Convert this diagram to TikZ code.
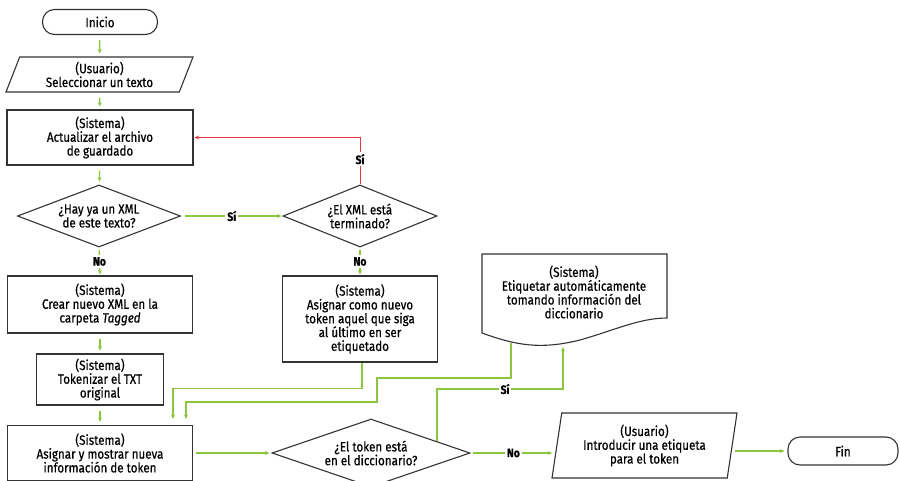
\documentclass[tikz,border=0pt]{standalone}
\usepackage{fontspec}
\setmainfont{Fira Sans}[FakeStretch=0.86, FakeBold=0.6]
\usetikzlibrary{shapes.geometric,arrows.meta,calc}
\definecolor{gr}{HTML}{8CC63F}
\definecolor{rd}{HTML}{E8383D}
\definecolor{ln}{HTML}{333333}
\begin{document}
\begin{tikzpicture}[x=1pt,y=-1pt,
  font=\fontsize{13.5}{13.8}\selectfont,
  shp/.style={draw=ln, line width=1.1pt, align=center, inner sep=2pt},
  box/.style={shp, rectangle},
  term/.style={shp, rectangle, rounded corners=12pt},
  dec/.style={shp, diamond, aspect=2.6, inner sep=0pt},
  io/.style={shp, trapezium, trapezium stretches body},
  lbl/.style={fill=white, inner sep=2pt, font=\fontsize{12}{13}\selectfont\bfseries},
  ga/.style={draw=gr, line width=1.2pt, -{Stealth[length=4.5pt,width=4pt]}},
  ra/.style={draw=rd, line width=1pt, -{Stealth[length=4.5pt,width=4pt]}},
  gap/.style={shorten <=5pt, shorten >=3pt}]
\useasboundingbox (0,0) rectangle (900,480);

\node[term, minimum width=115pt, minimum height=25pt] (inicio) at (100,22) {Inicio};
\node[io, trapezium left angle=65, trapezium right angle=115, minimum width=187pt, minimum height=35pt] (u1) at (99.5,74.5) {(Usuario)\\Seleccionar un texto};
\node[box, minimum width=186pt, minimum height=55pt] (act) at (100,137.5) {(Sistema)\\Actualizar el archivo\\de guardado};
\node[dec, minimum width=163pt, minimum height=62pt] (d1) at (99,216) {¿Hay ya un XML\\de este texto?};
\node[dec, aspect=2.5, minimum width=154pt, minimum height=62pt] (d2) at (360,216) {¿El XML está\\terminado?};
\node[box, minimum width=185pt, minimum height=57pt] (crear) at (100,304.5) {(Sistema)\\Crear nuevo XML en la\\carpeta \textit{Tagged}};
\node[box, minimum width=127pt, minimum height=51pt] (tok) at (100,379.5) {(Sistema)\\Tokenizar el TXT\\original};
\node[box, minimum width=185pt, minimum height=55pt] (asig) at (100,453) {(Sistema)\\Asignar y mostrar nueva\\información de token};
\node[box, minimum width=155pt, minimum height=86pt] (nuevo) at (360,319) {(Sistema)\\Asignar como nuevo\\token aquel que siga\\al último en ser\\etiquetado};
\node[align=center, inner sep=0pt] (doc) at (574,292) {(Sistema)\\Etiquetar automáticamente\\tomando información del\\diccionario};
\draw[draw=ln, line width=1.1pt] (482,333) -- (482,254) -- (667,254) -- (667,318)
  .. controls (640,318) and (615,330) .. (580,340)
  .. controls (540,350) and (515,345) .. (482,333);
\node[dec, aspect=3.4, minimum width=198pt, minimum height=68pt] (d3) at (371,453) {¿El token está\\en el diccionario?};
\node[io, trapezium left angle=78, trapezium right angle=102, minimum width=185pt, minimum height=65pt] (u2) at (644.5,445.5) {(Usuario)\\Introducir una etiqueta\\para el token};
\node[term, minimum width=110pt, minimum height=28pt] (fin) at (843,451) {Fin};

\coordinate (docL) at (511,343);
\coordinate (docR) at (563,347);
\coordinate (sy) at (0,389);

\draw[ga, gap] (inicio) -- (u1);
\draw[ga, gap] (u1) -- (act);
\draw[ga, gap] (act) -- (d1);
\draw[ga, shorten <=4pt, shorten >=1pt] (d1.east) -- node[lbl]{Sí} (d2.west);
\draw[ra, shorten >=1pt] (d2.north) |- node[lbl, pos=0.27]{Sí} (act.east);
\draw[ga, shorten <=2pt, shorten >=1pt] (d1.south) -- node[lbl]{No} (crear.north);
\draw[ga, shorten <=2pt, shorten >=1pt] (d2.south) -- node[lbl]{No} (nuevo.north);
\draw[ga, gap] (crear) -- (tok);
\draw[ga, gap] (tok) -- (asig);
\draw[ga, shorten >=6pt] ([xshift=2pt]nuevo.south) -- ++(0,26) -| ([xshift=73pt]asig.north);
\draw[ga, shorten >=6pt] (docL) -- (511,378) -- (377,378) -- (377,402) -- (186,402) -- ([xshift=86pt]asig.north);
\draw[ga] (d3.10) -- (d3.10 |- sy) -| node[lbl, pos=0.27]{Sí} (docR);
\draw[ga, shorten <=3pt, shorten >=2pt] (asig.east) -- (d3.west);
\draw[ga, shorten <=2pt, shorten >=4pt] (d3.east) -- node[lbl]{No} (d3.east -| u2.west);
\draw[ga, shorten <=2pt, shorten >=3pt] (fin.west -| u2.east) -- (fin.west);
\end{tikzpicture}
\end{document}
